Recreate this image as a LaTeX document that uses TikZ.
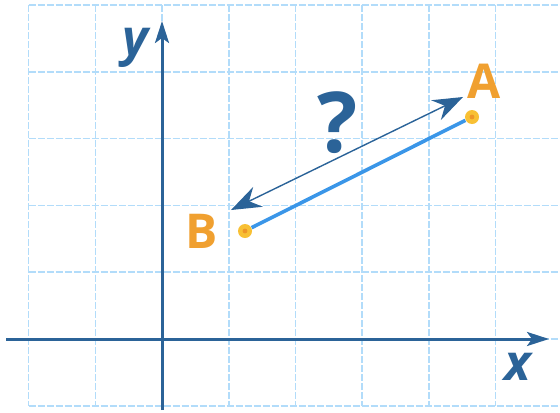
\documentclass[tikz,border=0pt]{standalone}
\usepackage{fontspec}
\setmainfont{Open Sans}
\usetikzlibrary{arrows.meta}
\definecolor{axisblue}{RGB}{43,99,152}
\definecolor{gridblue}{RGB}{178,220,250}
\definecolor{segblue}{RGB}{58,150,232}
\definecolor{lblorange}{RGB}{240,160,48}
\definecolor{dotfill}{RGB}{248,192,52}
\definecolor{dotcore}{RGB}{238,150,40}
\tikzset{
  gridline/.style={draw=gridblue, line width=0.8pt, dash pattern=on 3.5pt off 1pt},
  axisline/.style={draw=axisblue, line width=1.5pt, -{Stealth[length=11pt,width=7pt,inset=2.5pt]}},
  segline/.style={draw=segblue, line width=1.8pt},
  distarrow/.style={draw=axisblue, line width=0.7pt, {Stealth[length=15pt,width=11pt,inset=5pt]}-{Stealth[length=15pt,width=11pt,inset=5pt]}},
  ptdot/.style={circle, fill=dotfill, minimum size=7pt, inner sep=0pt},
  ptlabel/.style={text=lblorange, font=\fontsize{24}{24}\selectfont\bfseries, inner sep=0pt},
  axislabel/.style={text=axisblue, font=\fontsize{25}{25}\selectfont\bfseries\itshape, inner sep=0pt},
  qlabel/.style={text=axisblue, font=\fontsize{42}{42}\selectfont\bfseries, inner sep=0pt}
}
\begin{document}
\begin{tikzpicture}[x=0.5pt, y=-0.5pt]
\useasboundingbox (0,0) rectangle (560,412);
% grid
\foreach \gx in {28.6,95.3,162,228.7,295.4,362.1,428.8,495.5}
  \draw[gridline] (\gx,5) -- (\gx,406);
\foreach \gy in {5,71.8,138.6,205.4,272.2,339,405.8}
  \draw[gridline] (28.6,\gy) -- (562,\gy);
% axes
\coordinate (xs) at (6,339);
\coordinate (xe) at (549,339);
\coordinate (ys) at (162,410);
\coordinate (ye) at (162,21);
\draw[axisline] (xs) -- (xe);
\draw[axisline] (ys) -- (ye);
\node[axislabel] (xl) at (518,367) {x};
\node[axislabel] (yl) at (135,48) {y};
% points
\node[ptdot] (B) at (245,231) {};
\node[ptdot] (A) at (472,117) {};
\draw[segline] (B) -- (A);
\fill[dotcore] (B) circle (1.2pt);
\fill[dotcore] (A) circle (1.2pt);
\node[ptlabel] (Bl) at (202,231) {B};
\node[ptlabel] (Al) at (484,81) {A};
% distance arrow
\coordinate (d1) at (231,210);
\coordinate (d2) at (463,97);
\draw[distarrow] (d1) -- (d2);
\node[qlabel] (q) at (338,123) {?};
\end{tikzpicture}
\end{document}
